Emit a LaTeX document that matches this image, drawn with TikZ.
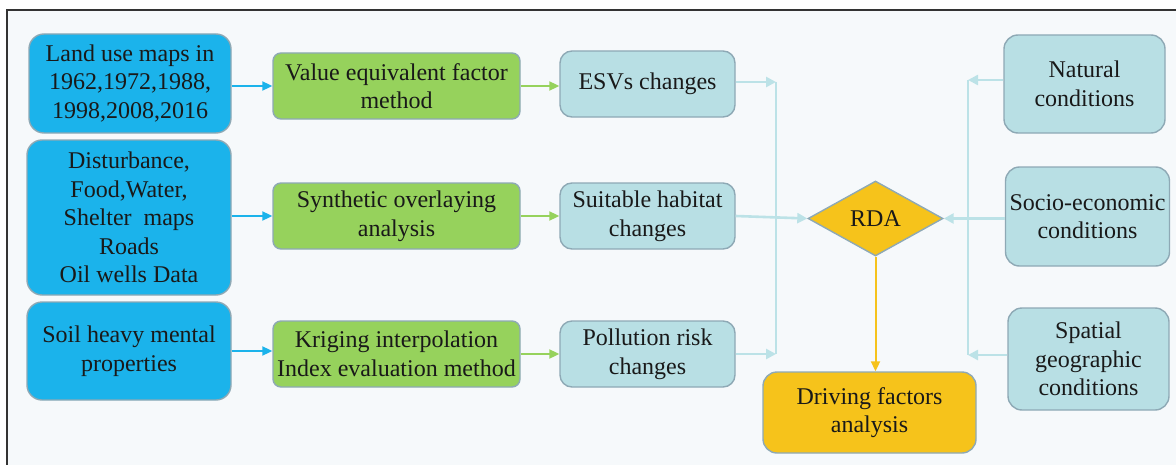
\documentclass[tikz,border=0pt]{standalone}
\usepackage{fontspec}
\setmainfont{Liberation Serif}
\usepackage{tikz}
\usepackage{xcolor}
\usetikzlibrary{shapes.geometric,arrows.meta}
\definecolor{boxblue}{HTML}{1BB3EB}
\definecolor{boxgreen}{HTML}{96D25C}
\definecolor{boxteal}{HTML}{B8DFE4}
\definecolor{boxyellow}{HTML}{F6C31B}
\definecolor{boxline}{HTML}{8EA9B5}
\definecolor{paneback}{HTML}{F6F9FB}
\definecolor{linkteal}{HTML}{BCE2E7}
\tikzset{
    base-box/.style = {draw=boxline, line width=0.7pt, rectangle, align=center, inner sep=2pt, text=black!90, font=\rmfamily\fontsize{12}{14.3}\selectfont},
    input-box/.style = {base-box, fill=boxblue, rounded corners=7.5pt, minimum width=102pt},
    method-box/.style = {base-box, fill=boxgreen, rounded corners=4pt, minimum width=123.5pt, minimum height=33pt},
    change-box/.style = {base-box, fill=boxteal, rounded corners=6pt, minimum width=87.5pt, minimum height=33pt},
    factor-box/.style = {base-box, fill=boxteal, rounded corners=7pt, minimum width=80.5pt},
    result-box/.style = {base-box, fill=boxyellow, rounded corners=7pt, minimum width=106.5pt, minimum height=40.5pt},
    rda-box/.style = {base-box, diamond, fill=boxyellow, inner sep=0pt, minimum width=67.5pt, minimum height=37.5pt},
    blue-arrow/.style = {draw=boxblue, line width=1pt, -{Triangle[length=5pt,width=4.5pt]}},
    green-arrow/.style = {draw=boxgreen, line width=1pt, -{Triangle[length=5pt,width=4.5pt]}},
    teal-arrow/.style = {draw=linkteal, line width=1.3pt, -{Triangle[length=5pt,width=5pt]}},
    teal-line/.style = {draw=linkteal, line width=1.3pt},
    yellow-arrow/.style = {draw=boxyellow, line width=1pt, -{Triangle[length=5pt,width=4.5pt]}},
}

\begin{document}
\begin{tikzpicture}[x=0.5pt, y=-0.5pt]
\useasboundingbox (0,0) rectangle (1176,465);
\fill[white] (0,0) rectangle (1176,465);
\fill[paneback] (7,10) rectangle (1176,465);
\draw[black!80, line width=1pt] (7,465) -- (7,10) -- (1176,10);

\node[input-box, minimum width=101pt, minimum height=49.5pt] (landuse) at (130,83.5) {Land use maps in\\1962,1972,1988,\\1998,2008,2016};
\node[input-box, minimum height=77.5pt] (habitat) at (129,217.5) {Disturbance,\\Food,Water,\\Shelter\ \ maps\\Roads\\Oil wells Data};
\node[input-box, minimum height=49pt] (soil) at (129,351) {Soil heavy mental\\properties};

\node[method-box] (value) at (396.5,86) {Value equivalent factor\\method};
\node[method-box] (overlay) at (396.5,216) {Synthetic overlaying\\analysis};
\node[method-box] (kriging) at (396.5,354) {Kriging interpolation\\Index evaluation method};

\node[change-box] (esv) at (647.5,84) {ESVs changes};
\node[change-box] (suitable) at (647.5,216) {Suitable habitat\\changes};
\node[change-box] (pollution) at (647.5,354) {Pollution risk\\changes};

\node[rda-box] (rda) at (875.5,218.5) {RDA};
\node[result-box] (driving) at (869.5,412.5) {Driving factors\\analysis};

\node[factor-box, minimum height=49pt] (natural) at (1084.5,84) {Natural\\conditions};
\node[factor-box, minimum height=49.5pt] (socio) at (1087.5,216.5) {Socio-economic\\conditions};
\node[factor-box, minimum height=51pt] (spatial) at (1088.5,359) {Spatial\\geographic\\conditions};

\coordinate (left-top) at (776,82);
\coordinate (left-bottom) at (776,354);
\coordinate (right-top) at (968,80);
\coordinate (right-bottom) at (968,355);

\draw[blue-arrow] (landuse.east |- value) -- (value.west);
\draw[blue-arrow] (habitat.east |- overlay) -- (overlay.west);
\draw[blue-arrow] (soil.east) -- (soil.east -| kriging.west);

\draw[green-arrow] (value.east) -- (value.east -| esv.west);
\draw[green-arrow] (overlay.east) -- (suitable.west);
\draw[green-arrow] (kriging.east) -- (pollution.west);

\draw[teal-line] (left-top) -- (left-bottom);
\draw[teal-arrow] (esv.east |- left-top) -- (left-top);
\draw[teal-arrow] (pollution.east |- left-bottom) -- (left-bottom);
\draw[teal-arrow] (suitable.east) -- (rda.west);

\draw[teal-line] (right-top) -- (right-bottom);
\draw[teal-arrow] (natural.west |- right-top) -- (right-top);
\draw[teal-arrow] (spatial.west |- right-bottom) -- (right-bottom);
\draw[teal-arrow] (socio.west |- rda) -- (rda.east);

\draw[yellow-arrow] (rda.south) -- (rda.south |- driving.north);
\end{tikzpicture}
\end{document}
